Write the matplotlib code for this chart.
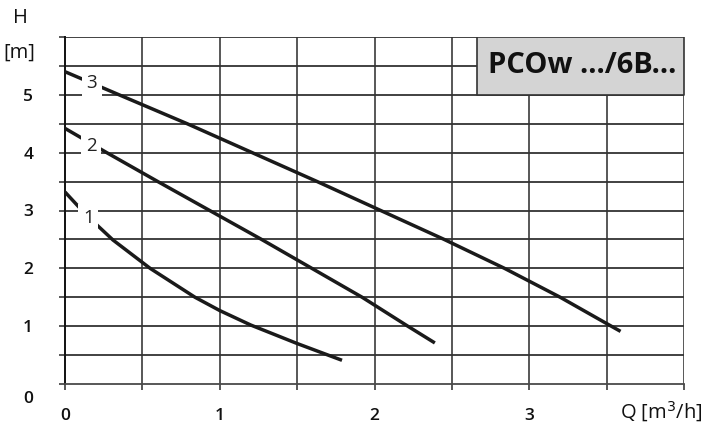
import matplotlib
matplotlib.use("Agg")
import matplotlib.pyplot as plt
from matplotlib.transforms import ScaledTranslation
import numpy as np

# Data (Q in m3/h, H in m)
q1 = [0.0, 0.1, 0.21, 0.31, 0.55, 0.84, 1.0, 1.2, 1.5, 1.79]
h1 = [3.32, 3.03, 2.74, 2.49, 2.0, 1.5, 1.27, 1.02, 0.70, 0.41]
q2 = [0.0, 0.27, 0.60, 0.935, 1.27, 1.595, 1.92, 2.215, 2.39]
h2 = [4.42, 4.0, 3.5, 3.0, 2.5, 2.0, 1.5, 1.0, 0.71]
q3 = [0.0, 0.35, 0.79, 1.21, 1.63, 2.04, 2.45, 2.84, 3.20, 3.53, 3.59]
h3 = [5.40, 5.0, 4.5, 4.0, 3.5, 3.0, 2.5, 2.0, 1.5, 1.0, 0.91]
curve_labels = ["1", "2", "3"]
label_pos = [(0.15, 2.87), (0.168, 4.12), (0.174, 5.2)]
xtick_vals = [0, 1, 2, 3]
ytick_vals = [0, 1, 2, 3, 4, 5]
title_text = "PCOw .../6B..."

FAM = ["Open Sans", "DejaVu Sans"]

fig = plt.figure(figsize=(7.04, 4.37), dpi=100)
ax = fig.add_axes([65/704, 1-384/437, (684-65)/704, (384-37)/437])
ax.set_xlim(0, 4.0)
ax.set_ylim(0, 6.0)

gridc = "#4a4a4a"
for x in np.arange(0.5, 4.01, 0.5):
    ax.axvline(x, color=gridc, lw=1.3, zorder=1)
for y in np.arange(0.5, 6.01, 0.5):
    ax.axhline(y, color="#333333", lw=1.3, zorder=1)

for s in ["top", "right"]:
    ax.spines[s].set_visible(False)
ax.spines["left"].set_color("#111111")
ax.spines["left"].set_linewidth(1.4)
ax.spines["bottom"].set_color(gridc)
ax.spines["bottom"].set_linewidth(1.3)

xt = np.arange(0, 4.01, 0.5)
yt = np.arange(0, 6.01, 0.5)
ax.set_xticks(xt)
ax.set_xticklabels([str(int(v)) if v in xtick_vals else "" for v in xt])
ax.set_yticks(yt)
ax.set_yticklabels([str(int(v)) if v in ytick_vals else "" for v in yt])
ax.tick_params(axis="both", length=4, width=1.3, color=gridc, labelsize=12.5)
ax.tick_params(axis="x", pad=13)
ax.tick_params(axis="y", pad=19)
for lab in ax.get_xticklabels() + ax.get_yticklabels():
    lab.set_fontfamily(FAM)
    lab.set_fontweight("semibold")
    lab.set_color("#111111")
ylabs = ax.get_yticklabels()
ylabs[0].set_transform(ylabs[0].get_transform() + ScaledTranslation(0, -13/100, fig.dpi_scale_trans))

for q, h in [(q1, h1), (q2, h2), (q3, h3)]:
    ax.plot(q, h, color="#1a1a1a", lw=2.5, solid_capstyle="butt", solid_joinstyle="round", zorder=3)

for lab, (x, y) in zip(curve_labels, label_pos):
    ax.text(x, y, lab, fontsize=13.5, family=FAM, color="#222222",
            ha="center", va="center", zorder=4,
            bbox=dict(facecolor="white", edgecolor="none", pad=3.5))

# title box
ax.fill_between([2.66, 4.0], 5.0, 6.0, facecolor="#d4d4d4", edgecolor="#333333", lw=1.2, zorder=5)
ax.text(3.34, 5.5, title_text, fontsize=21, fontweight="bold", family=FAM,
        ha="center", va="center", color="#111111", zorder=6)

fig.text(20/704, 1-18/437, "H", fontsize=14.5, ha="center", va="center", family=FAM, color="#111111")
fig.text(19/704, 1-53/437, "[m]", fontsize=14.5, ha="center", va="center", family=FAM, color="#111111")
fig.text(661/704, 1-412/437, "Q [m$^3$/h]", fontsize=14.5, ha="center", va="center", family=FAM, color="#111111")

fig.savefig("out.png", dpi=100)
